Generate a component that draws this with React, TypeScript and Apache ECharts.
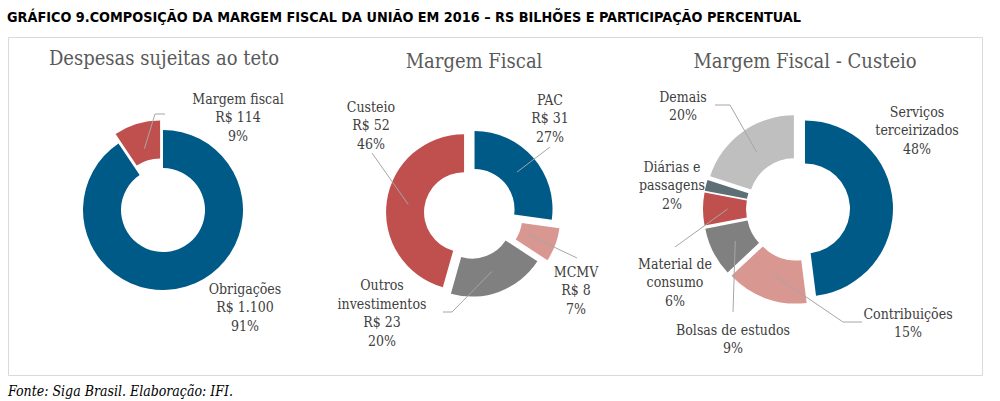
import { useEffect, useRef } from "react";
import * as echarts from "echarts";

// ---------- data ----------
const chartTitle =
  "GRÁFICO 9.COMPOSIÇÃO DA MARGEM FISCAL DA UNIÃO EM 2016 – RS BILHÕES E PARTICIPAÇÃO PERCENTUAL";
const sourceNote = "Fonte: Siga Brasil. Elaboração: IFI.";

const tetoTitle = "Despesas sujeitas ao teto";
const tetoCategories = ["Obrigações", "Margem fiscal"];
const tetoValues = [1100, 114];

const margemTitle = "Margem Fiscal";
const margemCategories = ["PAC", "MCMV", "Outros\ninvestimentos", "Custeio"];
const margemValues = [31, 8, 23, 52];

const custeioTitle = "Margem Fiscal - Custeio";
const custeioCategories = [
  "Serviços\nterceirizados",
  "Contribuições",
  "Bolsas de estudos",
  "Material de\nconsumo",
  "Diárias e\npassagens",
  "Demais",
];
const custeioValues = [48, 15, 9, 6, 2, 20];

// ---------- styles / layout ----------
const BLUE = "#005a88";
const RED = "#c0504d";
const PINK = "#d99792";
const GRAY = "#808080";
const SLATE = "#5d6f75";
const LIGHT = "#bfbfbf";
const CLEAR = "rgba(0,0,0,0)";

const tetoColors = [BLUE, RED];
const margemColors = [BLUE, PINK, GRAY, RED];
const custeioColors = [BLUE, PINK, GRAY, RED, SLATE, LIGHT];

const SERIF = "DejaVu Serif Condensed";
const LABEL_COLOR = "#404040";
const LINE_COLOR = "#a6a6a6";

type LabelCfg = { pos: [number, number]; line: number[][] | null };

const tetoPanel = {
  center: [163, 210],
  radius: [42, 80],
  offsets: [0, 10],
  labels: [
    { pos: [245, 307], line: null },
    { pos: [238, 117], line: [[155, 114], [165, 114]] },
  ] as LabelCfg[],
};
const margemPanel = {
  center: [470, 213],
  radius: [40, 78],
  offsets: [6, 13, 6, 6],
  labels: [
    { pos: [550, 118], line: [[550, 147]] },
    { pos: [576, 290], line: [[577, 258]] },
    { pos: [382, 313], line: [[452, 312], [443, 312]] },
    { pos: [371, 125], line: [[372, 153]] },
  ] as LabelCfg[],
};
const custeioPanel = {
  center: [798, 209],
  radius: [45, 88],
  offsets: [7, 7, 7, 7, 7, 7],
  labels: [
    { pos: [917, 130], line: null },
    { pos: [908, 323], line: [[843, 322], [862, 322]] },
    { pos: [733, 339], line: [[733, 312]] },
    { pos: [675, 282], line: [[675, 247]] },
    { pos: [672, 185], line: null },
    { pos: [683, 106], line: [[730, 105], [715, 105]] },
  ] as LabelCfg[],
};

const fmtBR = (v: number) => String(v).replace(/\B(?=(\d{3})+(?!\d))/g, ".");

// slice series (one per distinct explosion offset) + one label series
function makeSeries(
  categories: string[],
  values: number[],
  colors: string[],
  panel: any,
  withValue: boolean
) {
  const c = panel.center;
  const base = {
    type: "pie",
    center: panel.center,
    radius: panel.radius,
    startAngle: 90,
    clockwise: true,
    avoidLabelOverlap: false,
    percentPrecision: 0,
    emphasis: { disabled: true },
    itemStyle: { borderWidth: 0 },
  };
  const distinct: number[] = Array.from(new Set(panel.offsets as number[]));
  const sliceSeries = distinct.map((off) => ({
    ...base,
    selectedMode: "multiple",
    selectedOffset: off,
    silent: true,
    select: { itemStyle: { borderWidth: 0 } },
    label: { show: false },
    labelLine: { show: false },
    data: categories.map((name, i) => {
      const mine = panel.offsets[i] === off;
      return {
        name,
        value: values[i],
        selected: mine && off > 0,
        itemStyle: { color: mine ? colors[i] : CLEAR },
        select: { itemStyle: { color: mine ? colors[i] : CLEAR } },
      };
    }),
  }));
  const labelSeries = {
    ...base,
    selectedMode: false,
    silent: true,
    z: 5,
    label: {
      show: true,
      position: "outside",
      fontFamily: SERIF,
      fontSize: 14,
      lineHeight: 18.5,
      color: LABEL_COLOR,
      align: "center",
      formatter: (p: any) =>
        withValue
          ? `${p.name}\nR$ ${fmtBR(p.value)}\n${p.percent}%`
          : `${p.name}\n${p.percent}%`,
    },
    labelLine: { show: true, lineStyle: { color: LINE_COLOR, width: 1 } },
    labelLayout: (params: any) => {
      const cfg: LabelCfg = panel.labels[params.dataIndex];
      const res: any = {
        x: cfg.pos[0],
        y: cfg.pos[1],
        align: "center",
        verticalAlign: "middle",
      };
      if (cfg.line && params.labelLinePoints) {
        const p0 = params.labelLinePoints[0];
        const start = [c[0] + (p0[0] - c[0]) * 0.8, c[1] + (p0[1] - c[1]) * 0.8];
        const pts = [start, ...cfg.line];
        while (pts.length < 3) pts.push(pts[pts.length - 1]);
        res.labelLinePoints = pts;
      }
      return res;
    },
    data: categories.map((name, i) => ({
      name,
      value: values[i],
      itemStyle: { color: CLEAR },
      labelLine: { show: !!panel.labels[i].line },
    })),
  };
  return [...sliceSeries, labelSeries];
}

export default function App() {
  const ref = useRef<HTMLDivElement>(null);
  useEffect(() => {
    if (!ref.current) return;
    const chart = echarts.init(ref.current, undefined, { renderer: "svg" });
    const panelTitle = (text: string, x: number, y: number) => ({
      type: "text",
      x,
      y,
      style: {
        text,
        fontFamily: SERIF,
        fontSize: 20,
        fill: "#595959",
        textAlign: "center",
        textVerticalAlign: "middle",
      },
    });
    chart.setOption({
      animation: false,
      backgroundColor: "#ffffff",
      graphic: [
        {
          type: "text",
          x: 7,
          y: 17,
          style: {
            text: chartTitle,
            fontFamily: "DejaVu Sans Condensed",
            fontWeight: "bold",
            fontSize: 14.3,
            fill: "#000000",
            textAlign: "left",
            textVerticalAlign: "middle",
          },
        },
        {
          type: "rect",
          shape: { x: 8.5, y: 37.5, width: 974, height: 338 },
          style: { fill: "none", stroke: "#d9d9d9", lineWidth: 1 },
        },
        panelTitle(tetoTitle, 164, 58),
        panelTitle(margemTitle, 474, 61),
        panelTitle(custeioTitle, 805, 61),
        {
          type: "text",
          x: 8,
          y: 391,
          style: {
            text: sourceNote,
            fontFamily: SERIF,
            fontStyle: "italic",
            fontSize: 14,
            fill: "#000000",
            textAlign: "left",
            textVerticalAlign: "middle",
          },
        },
      ],
      series: [
        ...makeSeries(tetoCategories, tetoValues, tetoColors, tetoPanel, true),
        ...makeSeries(margemCategories, margemValues, margemColors, margemPanel, true),
        ...makeSeries(custeioCategories, custeioValues, custeioColors, custeioPanel, false),
      ],
    });
    return () => chart.dispose();
  }, []);
  return (
    <div
      ref={ref}
      style={{ position: "absolute", left: 0, top: 0, width: 1000, height: 401 }}
    />
  );
}
